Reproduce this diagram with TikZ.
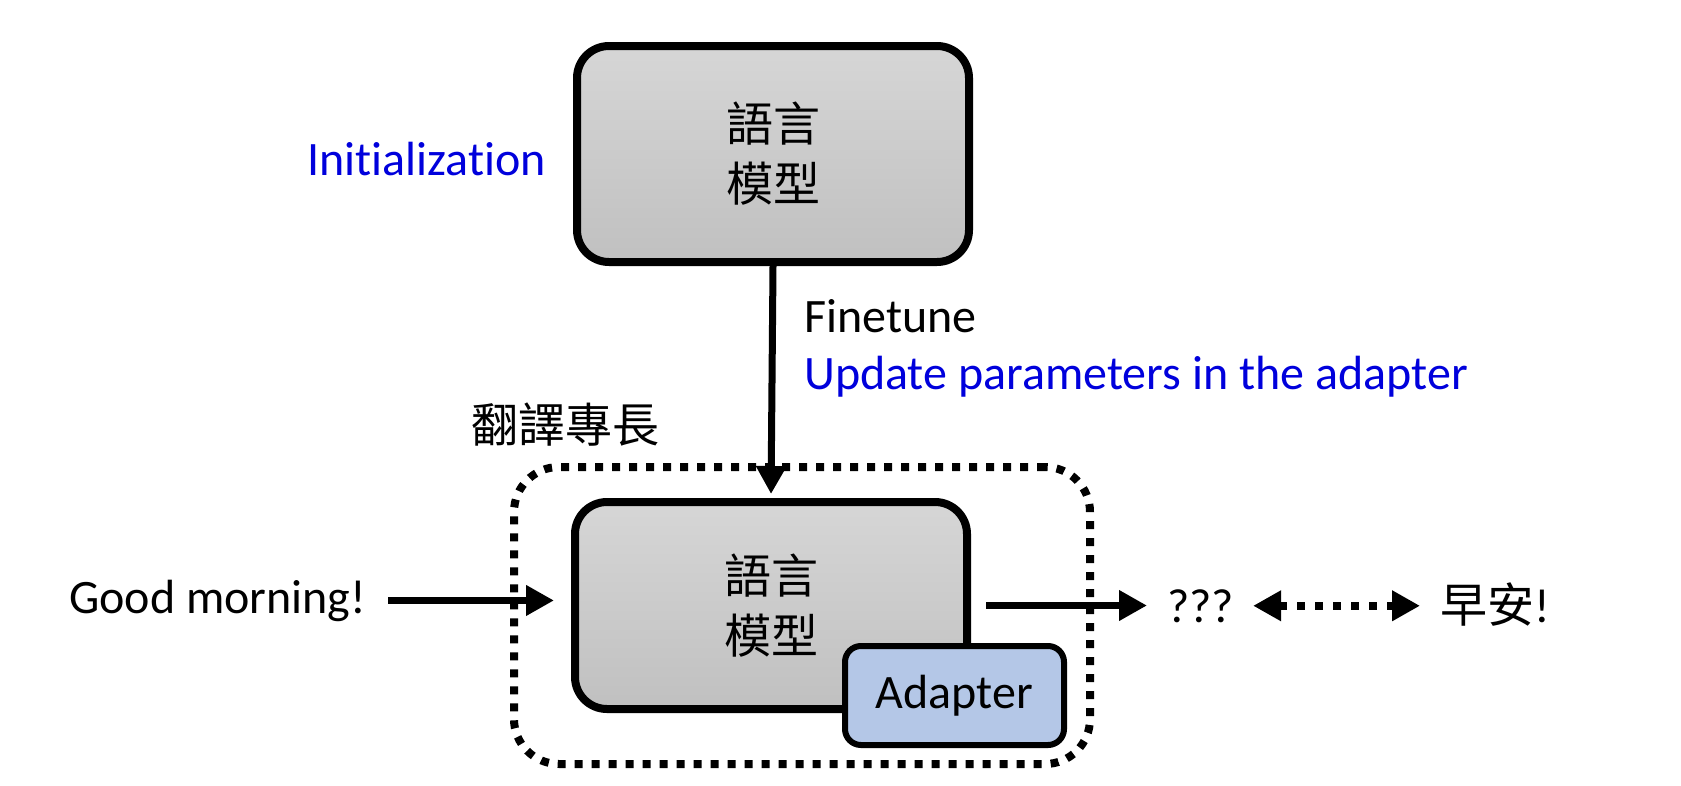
\documentclass[tikz,border=0pt]{standalone}
\usepackage{fontspec}
\setmainfont[Ligatures=NoCommon]{Carlito}
\newfontfamily\cjk{Noto Sans CJK TC}
\usetikzlibrary{arrows.meta, positioning}
\definecolor{hint}{RGB}{0, 0, 220}
\definecolor{lmtop}{RGB}{214, 214, 214}
\definecolor{lmbot}{RGB}{192, 192, 192}
\definecolor{adapt}{RGB}{180, 199, 231}
\newcommand{\txtsize}{\fontsize{48}{60}\selectfont}
\newcommand{\cjksize}{\fontsize{47}{60}\selectfont}

\begin{document}
\begin{tikzpicture}[x=1pt, y=-1pt,
    lmbox/.style={draw, line width=8pt, rounded corners=32pt, top color=lmtop, bottom color=lmbot,
      minimum width=392pt, align=center, inner sep=0pt, font=\cjk\cjksize},
    adapterbox/.style={draw, line width=6pt, rounded corners=16pt, fill=adapt,
      minimum width=219pt, minimum height=99pt, inner sep=0pt, font=\txtsize},
    skillbox/.style={draw, line width=8pt, dash pattern=on 8pt off 9pt, rounded corners=45pt,
      minimum width=576pt, minimum height=297pt, inner sep=0pt},
    txt/.style={inner sep=0pt, font=\txtsize},
    flow/.style={line width=7pt, -{Triangle[length=28pt, width=29pt]}},
    match/.style={line width=8pt, dash pattern=on 8pt off 10pt,
      {Triangle[length=28pt, width=29pt]}-{Triangle[length=28pt, width=29pt]}}]
  \useasboundingbox (0,0) rectangle (1681,785);
  % initial model
  \node[lmbox, minimum height=216pt] (topLM) at (773,154) {語言\\模型};
  \node[txt, anchor=base west, text=hint] (init) at (307,175) {Initialization};
  % finetuned model with adapter
  \node[skillbox] (skill) at (802,615.5) {};
  \node[txt, anchor=base west, font=\cjk\cjksize] (skillname) at (471,442) {翻譯專長};
  \node[lmbox, minimum height=207pt] (botLM) at (771,605.5) {語言\\模型};
  \node[adapterbox] (adapter) at (954.5,695.5) {Adapter};
  \draw[flow, shorten >=4pt] (topLM.south) -- (botLM.north);
  \node[txt, anchor=base west] (ft) at (804,332) {Finetune};
  \node[txt, anchor=base west, text=hint] (upd) at (804,389) {Update parameters in the adapter};
  % input and output
  \node[txt, anchor=base west] (good) at (69,613) {Good morning!};
  \node[txt, anchor=base west] (qq) at (1167,622) {???};
  \node[txt, anchor=base west] (zao) at (1440,622) {{\cjk\cjksize 早安}!};
  \draw[flow, shorten <=22pt, shorten >=17pt] (good.east) -- (good.east -| botLM.west);
  \draw[flow, shorten <=15pt, shorten >=20pt] (botLM.east) -- (botLM.east -| qq.west);
  \draw[match, shorten <=19pt, shorten >=20pt] (qq.east) -- (qq.east -| zao.west);
\end{tikzpicture}
\end{document}
